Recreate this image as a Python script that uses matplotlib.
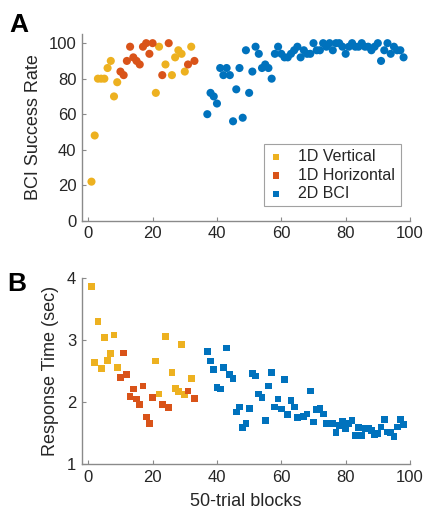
import matplotlib
matplotlib.use("Agg")
import matplotlib.pyplot as plt
from matplotlib.markers import MarkerStyle

plt.rcParams['font.family'] = ['Liberation Sans', 'DejaVu Sans']

# ---- data ----
vert_x = [1, 2, 3, 4, 5, 6, 7, 8, 9, 21, 22, 24, 26, 27, 28, 29, 30, 32]
vert_rate = [22, 48, 80, 80, 80, 86, 90, 70, 78, 72, 98, 88, 82, 92, 96, 94, 84, 98]
vert_rt = [3.86, 2.64, 3.30, 2.54, 3.04, 2.67, 2.78, 3.08, 2.56, 2.66, 2.13, 3.06,
           2.48, 2.22, 2.17, 2.92, 2.12, 2.38]

horiz_x = [10, 11, 12, 13, 14, 15, 16, 17, 18, 19, 20, 23, 25, 31, 33]
horiz_rate = [84, 82, 90, 98, 92, 90, 88, 98, 100, 94, 100, 82, 100, 88, 90]
horiz_rt = [2.40, 2.79, 2.44, 2.09, 2.21, 2.05, 1.96, 2.26, 1.76, 1.66, 2.08, 1.96,
            1.91, 2.18, 2.06]

bci_x = [37, 38, 39, 40, 41, 42, 43, 44, 45, 46, 47, 48, 49, 50, 51, 52, 53, 54,
         55, 56, 57, 58, 59, 60, 61, 62, 63, 64, 65, 66, 67, 68, 69, 70, 71, 72,
         73, 74, 75, 76, 77, 78, 79, 80, 81, 82, 83, 84, 85, 86, 87, 88, 89, 90,
         91, 92, 93, 94, 95, 96, 97, 98]
bci_rate = [60, 72, 70, 66, 86, 82, 86, 82, 56, 74, 86, 58, 96, 72, 84, 98, 94, 86,
            88, 86, 80, 94, 98, 94, 92, 92, 94, 96, 98, 92, 96, 94, 94, 100, 96, 96,
            100, 98, 100, 96, 100, 100, 98, 94, 98, 100, 98, 98, 100, 98, 98, 96, 98, 100,
            90, 96, 100, 94, 98, 96, 96, 92]
bci_rt = [2.82, 2.66, 2.53, 2.23, 2.21, 2.56, 2.87, 2.45, 2.38, 1.84, 1.92, 1.59,
          1.65, 1.90, 2.46, 2.42, 2.13, 2.07, 1.71, 2.26, 2.48, 1.92, 2.05, 1.89,
          2.36, 1.80, 2.02, 1.92, 1.75, 1.76, 1.77, 1.81, 2.18, 1.68, 1.88, 1.90,
          1.81, 1.65, 1.66, 1.66, 1.51, 1.62, 1.69, 1.57, 1.65, 1.71, 1.46, 1.59,
          1.46, 1.58, 1.58, 1.54, 1.47, 1.49, 1.60, 1.72, 1.52, 1.51, 1.45, 1.60,
          1.72, 1.64]

labels = ['1D Vertical', '1D Horizontal', '2D BCI']
colors = ['#EDB120', '#D95319', '#0072BD']
x_ticks = [0, 20, 40, 60, 80, 100]
rate_ticks = [0, 20, 40, 60, 80, 100]
rt_ticks = [1, 2, 3, 4]

# ---- figure ----
fig = plt.figure(figsize=(4.24, 5.14), dpi=100)
axA = fig.add_axes([0.193, 0.5706, 0.774, 0.3627])
axB = fig.add_axes([0.193, 0.0967, 0.774, 0.363])

spine_c = '#8a8a8a'
text_c = '#262626'

def style(ax):
    for s in ['top', 'right']:
        ax.spines[s].set_visible(False)
    for s in ['left', 'bottom']:
        ax.spines[s].set_color(spine_c)
        ax.spines[s].set_linewidth(1.0)
    ax.tick_params(direction='in', length=3, width=0.8, color=spine_c,
                   labelsize=12, labelcolor=text_c, pad=4)

series = [(vert_x, vert_rate, vert_rt), (horiz_x, horiz_rate, horiz_rt),
          (bci_x, bci_rate, bci_rt)]

for (xs, rate, rt), c, lab in zip(series, colors, labels):
    axA.scatter(xs, rate, s=34, marker='o', color=c, edgecolors='none',
                label=lab, zorder=3, clip_on=False)
    axB.scatter(xs, rt, s=24, marker='s', color=c, edgecolors='none',
                zorder=3, clip_on=False)

axA.set_xlim(-2, 100)
axA.set_ylim(0, 105)
axA.set_xticks(x_ticks)
axA.set_yticks(rate_ticks)
axA.set_ylabel('BCI Success Rate', fontsize=13, color=text_c, labelpad=5)
style(axA)

axB.set_xlim(-2, 100)
axB.set_ylim(1, 4)
axB.set_xticks(x_ticks)
axB.set_yticks(rt_ticks)
axB.set_ylabel('Response Time (sec)', fontsize=13, color=text_c, labelpad=6)
axB.set_xlabel('50-trial blocks', fontsize=13, color=text_c, labelpad=6)
style(axB)

leg = axA.legend(loc='upper left', bbox_to_anchor=(0.555, 0.412),
                 fontsize=11.5, frameon=True, fancybox=False,
                 edgecolor='#8a8a8a', markerscale=0.75,
                 handlelength=0.8, handletextpad=1.0, borderpad=0.35,
                 labelspacing=0.2, borderaxespad=0)
sq = MarkerStyle('s')
for h in leg.legend_handles:
    h.set_paths([sq.get_path().transformed(sq.get_transform())])
leg.get_frame().set_linewidth(0.8)
for t in leg.get_texts():
    t.set_color(text_c)

fig.text(0.022, 0.937, 'A', fontsize=19, fontweight='bold', color='black')
fig.text(0.018, 0.433, 'B', fontsize=19, fontweight='bold', color='black')

fig.savefig('out.png', dpi=100)
